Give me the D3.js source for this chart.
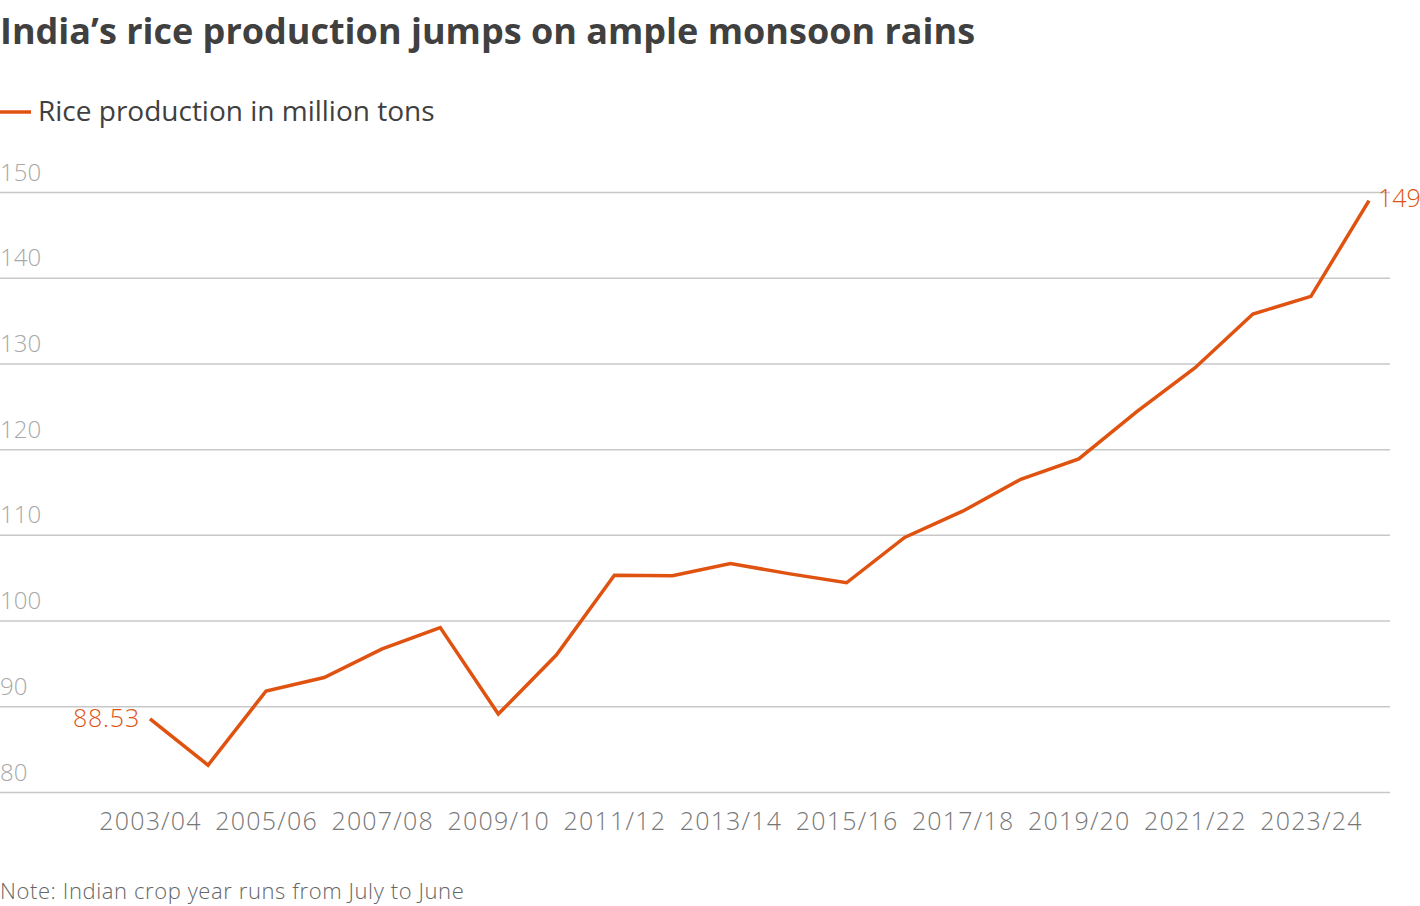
<!DOCTYPE html>
<html>
<head>
<meta charset="utf-8">
<script src="https://cdn.jsdelivr.net/npm/d3@7"></script>
<style>
  body { margin: 0; background: #fff; }
  text { font-family: "Open Sans", "Noto Sans", sans-serif; }
</style>
</head>
<body>
<script>
"use strict";
(function(){
    // crop years, July to June
    const years = ["2003/04","2004/05","2005/06","2006/07","2007/08","2008/09","2009/10","2010/11",
        "2011/12","2012/13","2013/14","2014/15","2015/16","2016/17","2017/18","2018/19",
        "2019/20","2020/21","2021/22","2022/23","2023/24","2024/25"]
    const production = [88.53, 83.13, 91.79, 93.36, 96.69, 99.18, 89.09, 95.98,
        105.30, 105.24, 106.65, 105.48, 104.41, 109.70, 112.76, 116.48,
        118.87, 124.37, 129.47, 135.76, 137.83, 149]
    const yTicks = [80, 90, 100, 110, 120, 130, 140, 150]
    const xTickLabels = ["2003/04","2005/06","2007/08","2009/10","2011/12","2013/14",
        "2015/16","2017/18","2019/20","2021/22","2023/24"]

    const measurements = {
        width: 1420,
        height: 906,
        plotLeft: 150,
        plotRight: 1369,
        plotTop: 192,
        plotBottom: 792,
        gridRight: 1390
    }
    const orange = "#e0520f"

    const svg = d3.select("body").append("svg")
        .attr("width", measurements.width)
        .attr("height", measurements.height)

    const scaleX = d3.scalePoint()
        .domain(years)
        .range([measurements.plotLeft, measurements.plotRight])

    const scaleY = d3.scaleLinear()
        .domain([80, 150])
        .range([measurements.plotBottom, measurements.plotTop])

    // title + legend
    svg.append("text")
        .attr("x", 0).attr("y", 44)
        .attr("font-size", 36).attr("font-weight", 700)
        .attr("fill", "#404040")
        .text("India’s rice production jumps on ample monsoon rains")

    svg.append("line")
        .attr("x1", 0).attr("x2", 31).attr("y1", 112).attr("y2", 112)
        .attr("stroke", orange).attr("stroke-width", 3.5)
    svg.append("text")
        .attr("x", 38).attr("y", 121)
        .attr("font-size", 28).attr("fill", "#404040")
        .text("Rice production in million tons")

    // y grid + labels
    const yAxis = d3.axisRight(scaleY)
        .tickValues(yTicks)
        .tickSize(measurements.gridRight)
        .tickFormat(d3.format("d"))
    const gy = svg.append("g").call(yAxis)
    gy.select(".domain").remove()
    gy.selectAll(".tick line").attr("stroke", "#c8c8c8").attr("stroke-width", 1.5)
    gy.selectAll(".tick text")
        .attr("x", 0).attr("dy", -12)
        .attr("font-size", 24).attr("font-weight", 300)
        .attr("fill", "#a8a8a8").attr("text-anchor", "start")
        .attr("font-family", "'Open Sans', sans-serif")

    // x labels
    const xAxis = d3.axisBottom(scaleX)
        .tickValues(xTickLabels)
        .tickSize(0)
        .tickPadding(0)
    const gx = svg.append("g")
        .attr("transform", `translate(0,${measurements.plotBottom})`)
        .call(xAxis)
    gx.select(".domain").remove()
    gx.selectAll(".tick text")
        .attr("y", 38).attr("dy", 0)
        .attr("font-size", 25).attr("font-weight", 300)
        .attr("letter-spacing", 1.2)
        .attr("fill", "#777").attr("font-family", "'Open Sans', sans-serif")

    // line
    const line = d3.line()
        .x((d, i) => scaleX(years[i]))
        .y(d => scaleY(d))
    svg.append("path")
        .datum(production)
        .attr("d", line)
        .attr("fill", "none")
        .attr("stroke", orange)
        .attr("stroke-width", 3.5)
        .attr("stroke-linejoin", "miter")

    // end labels
    const first = production[0], last = production[production.length - 1]
    svg.append("text")
        .attr("x", scaleX(years[0]) - 10).attr("y", scaleY(first) + 8)
        .attr("text-anchor", "end")
        .attr("font-size", 25).attr("font-weight", 300)
        .attr("letter-spacing", 0.8).attr("fill", orange)
        .text(first)
    svg.append("text")
        .attr("x", scaleX(years[years.length - 1]) + 9).attr("y", scaleY(last) + 6)
        .attr("font-size", 25).attr("font-weight", 300)
        .attr("fill", orange)
        .text(last)

    // note
    svg.append("text")
        .attr("x", 0).attr("y", 899)
        .attr("font-size", 22).attr("font-weight", 300)
        .attr("letter-spacing", 0.6).attr("fill", "#666")
        .text("Note: Indian crop year runs from July to June")
})()
</script>
</body>
</html>
